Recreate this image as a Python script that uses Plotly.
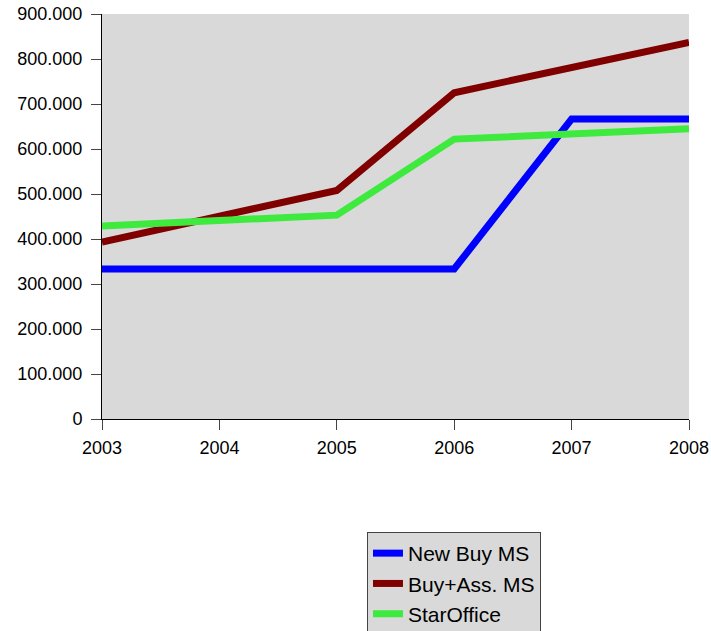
import plotly.graph_objects as go

years = ["2003", "2004", "2005", "2006", "2007", "2008"]
new_buy_ms = [333333, 333333, 333333, 333333, 666667, 666667]
buy_ass_ms = [393000, 452000, 508000, 725000, 781000, 837000]
star_office = [429000, 442000, 453000, 622000, 634000, 645000]

y_tick_vals = [0, 100000, 200000, 300000, 400000, 500000, 600000, 700000, 800000, 900000]
y_tick_text = ["0", "100.000", "200.000", "300.000", "400.000", "500.000",
               "600.000", "700.000", "800.000", "900.000"]

x_num = list(range(len(years)))

fig = go.Figure()
fig.add_trace(go.Scatter(x=x_num, y=new_buy_ms, mode="lines", name="New Buy MS",
                         line=dict(color="#0000ff", width=7)))
fig.add_trace(go.Scatter(x=x_num, y=buy_ass_ms, mode="lines", name="Buy+Ass. MS",
                         line=dict(color="#800000", width=7)))
fig.add_trace(go.Scatter(x=x_num, y=star_office, mode="lines", name="StarOffice",
                         line=dict(color="#3eea3e", width=7)))

fig.update_layout(
    width=711, height=631,
    margin=dict(l=102, r=22, t=14, b=212, autoexpand=False),
    paper_bgcolor="white",
    plot_bgcolor="#d9d9d9",
    font=dict(family="Liberation Sans, Arial, sans-serif", size=18, color="black"),
    showlegend=True,
    legend=dict(
        x=0.4514, y=-0.279, xanchor="left", yanchor="top",
        bgcolor="#d9d9d9", bordercolor="#444444", borderwidth=1,
        font=dict(size=21, color="black"),
        traceorder="normal", itemwidth=30,
    ),
    xaxis=dict(
        tickmode="array", tickvals=x_num, ticktext=years,
        range=[0, len(years) - 1], automargin=False,
        showgrid=False, zeroline=False,
        showline=True, linecolor="black", linewidth=1,
        ticks="outside", ticklen=10, tickcolor="#444444",
        ticklabelstandoff=2, ticklabeloverflow="allow",
    ),
    yaxis=dict(
        tickmode="array", tickvals=y_tick_vals, ticktext=y_tick_text,
        range=[0, 900000], automargin=False,
        showgrid=False, zeroline=False,
        showline=True, linecolor="black", linewidth=1,
        ticks="outside", ticklen=10, tickcolor="#444444",
        ticklabelstandoff=5, ticklabeloverflow="allow",
    ),
)

fig.write_html(
    "out.html",
    config={"displayModeBar": False},
    post_script="document.body.style.margin='0';document.body.style.overflow='hidden';",
)
